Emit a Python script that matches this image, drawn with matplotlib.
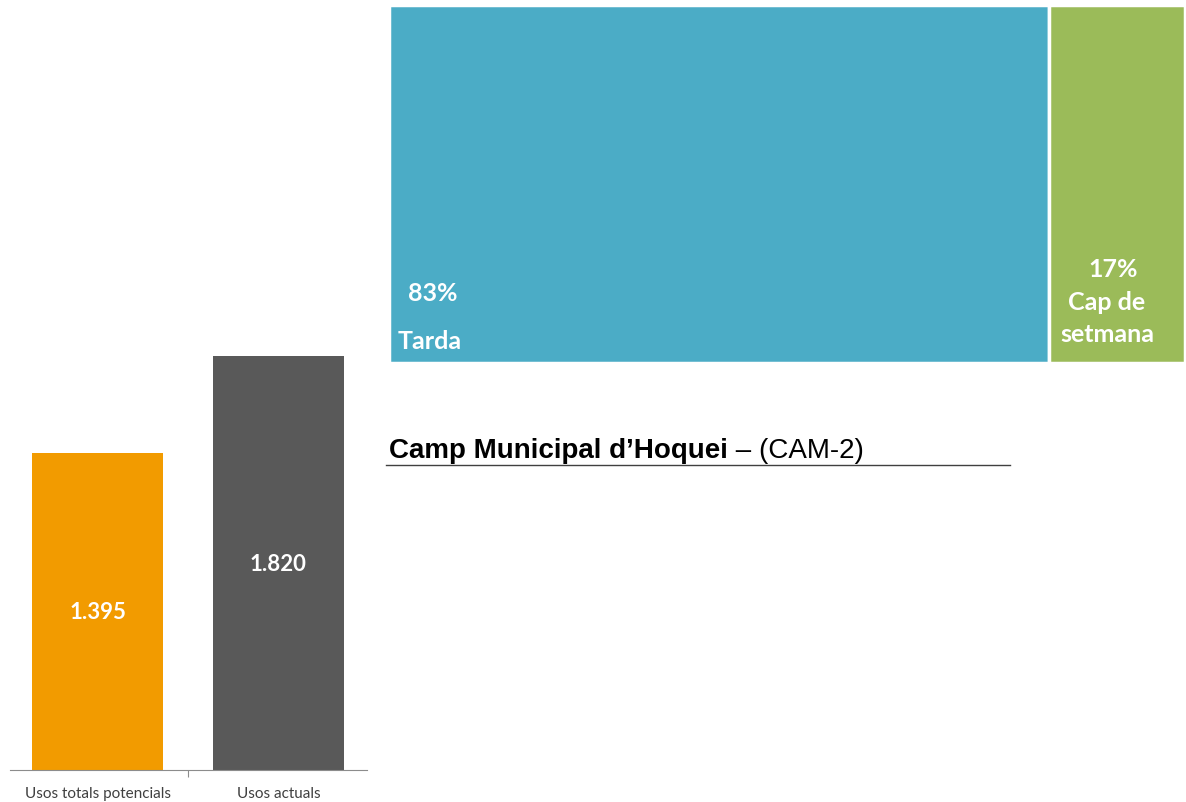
import matplotlib
matplotlib.use("Agg")
import matplotlib.pyplot as plt

# dades
categories = ["Usos totals potencials", "Usos actuals"]
usos = [1395, 1820]
etiquetes_usos = ["1.395", "1.820"]
colors_usos = ["#F29B00", "#595959"]

franges = ["Tarda", "Cap de\nsetmana"]
percentatges = [83, 17]
colors_franges = ["#4BACC6", "#9BBB59"]

titol_negreta = "Camp Municipal d\u2019Hoquei"
titol_normal = " \u2013 (CAM-2)"

W, H = 1186, 802
fig = plt.figure(figsize=(W / 100, H / 100), dpi=100)

def rect(x0, y0, x1, y1):
    # pixels (origen a dalt a l'esquerra) -> fraccio de figura
    return [x0 / W, 1 - y1 / H, (x1 - x0) / W, (y1 - y0) / H]

# 1. Barres d'usos
ax = fig.add_axes(rect(10, 356, 367, 770))
x = range(len(categories))
ax.bar(x, usos, width=0.724, color=colors_usos)
for i, (v, t) in enumerate(zip(usos, etiquetes_usos)):
    ax.annotate(t, (i, v / 2), xytext=(0, -5.8), textcoords="offset points",
                ha="center", va="baseline", color="white",
                fontsize=16, fontweight="bold", family="Lato")
ax.set_xlim(-0.485, 1.49)
ax.set_ylim(0, max(usos))
for s in ["top", "right", "left"]:
    ax.spines[s].set_visible(False)
ax.spines["bottom"].set_color("#8c8c8c")
ax.set_yticks([])
ax.set_xticks([0.5])
ax.set_xticklabels([""])
ax.tick_params(axis="x", length=5, color="#8c8c8c")
for i, c in enumerate(categories):
    ax.text(i, -28 / 414, c, ha="center", va="baseline",
            transform=ax.get_xaxis_transform(),
            fontsize=11, color="#404040", family="Lato")

# 2. Distribucio per franges (treemap d'una fila)
ax2 = fig.add_axes(rect(388.5, 5.5, 1184.5, 363.5))
esquerra = 0
for f, p, c in zip(franges, percentatges, colors_franges):
    ax2.barh(0, p, left=esquerra, height=1, color=c, edgecolor="white",
             linewidth=2.5)
    esquerra += p
ax2.set_xlim(0, sum(percentatges))
ax2.set_ylim(-0.5, 0.5)
ax2.axis("off")

estil = dict(ha="center", va="baseline", color="white", fontsize=18,
             fontweight="bold", family="Lato")
ax2.text(5.59, -0.3254, f"{percentatges[0]}%", **estil)
ax2.text(5.16, -0.4595, franges[0], **estil)
ax2.text(percentatges[0] + 8.08, -0.2584, f"{percentatges[1]}%", **estil)
for j, linia in enumerate(franges[1].split("\n")):
    ax2.text(percentatges[0] + 7.26, -0.3506 - j * 0.0894, linia, **estil)

# 3. Titol
t1 = fig.text(389 / W, 1 - 458 / H, titol_negreta, ha="left", va="baseline",
              fontsize=20, fontweight="bold", family="Liberation Sans")
fig.canvas.draw()
bb = t1.get_window_extent()
fig.text(bb.x1 / W, 1 - 458 / H, titol_normal, ha="left", va="baseline",
         fontsize=20, family="Liberation Sans")
fig.add_artist(plt.Line2D([386 / W, 1010 / W], [1 - 465 / H, 1 - 465 / H],
                          color="#404040", linewidth=1))

fig.savefig("out.png", dpi=100)
